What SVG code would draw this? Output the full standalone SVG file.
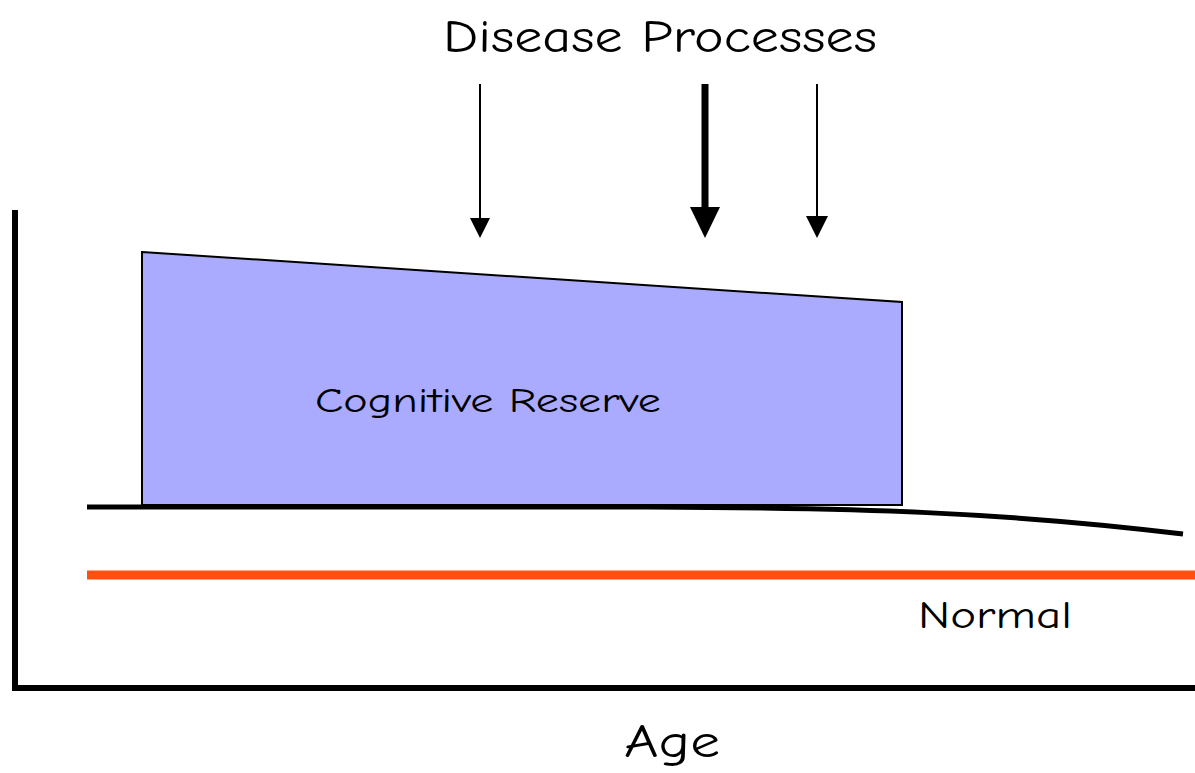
<svg xmlns="http://www.w3.org/2000/svg" width="1195" height="773" viewBox="0 0 1195 773">
<style>
.t{font-family:"Comic Neue","Liberation Sans","DejaVu Sans",sans-serif;fill:#000}
.ax{stroke:#000;stroke-width:6;fill:none}
.arr{stroke:#000;fill:none}
</style>
<rect width="1195" height="773" fill="#fff"/>
<g id="axes">
<polyline class="ax" points="15,210 15,688 1195,688"/>
</g>
<g id="reserve">
<polygon points="142,252 902,302 902,505 142,505" fill="#AAAAFF" stroke="#000" stroke-width="2"/>
<text class="t" x="488" y="412" font-size="34" text-anchor="middle" textLength="346" lengthAdjust="spacingAndGlyphs">Cognitive Reserve</text>
</g>
<g id="cognition">
<path d="M87,507 L650,507 C860,508 1000,512 1183,534" stroke="#000" stroke-width="5" fill="none"/>
</g>
<g id="normal">
<line x1="87" y1="575" x2="1195" y2="575" stroke="#FF5010" stroke-width="9"/>
<text class="t" x="995" y="628" font-size="38" text-anchor="middle" textLength="154" lengthAdjust="spacingAndGlyphs">Normal</text>
</g>
<g id="title">
<text class="t" x="660" y="52" font-size="46" text-anchor="middle" textLength="434" lengthAdjust="spacingAndGlyphs">Disease Processes</text>
</g>
<g id="connectors">
<line class="arr" x1="480" y1="84" x2="480" y2="220" stroke-width="2"/>
<polygon points="470,218 490,218 480,238"/>
<line class="arr" x1="705" y1="84" x2="705" y2="210" stroke-width="7"/>
<polygon points="690,207 720,207 705,238"/>
<line class="arr" x1="817" y1="84" x2="817" y2="218" stroke-width="2"/>
<polygon points="806,216 828,216 817,238"/>
</g>
<g id="xlabel">
<text class="t" x="672" y="757" font-size="46" text-anchor="middle" textLength="96" lengthAdjust="spacingAndGlyphs">Age</text>
</g>
</svg>
